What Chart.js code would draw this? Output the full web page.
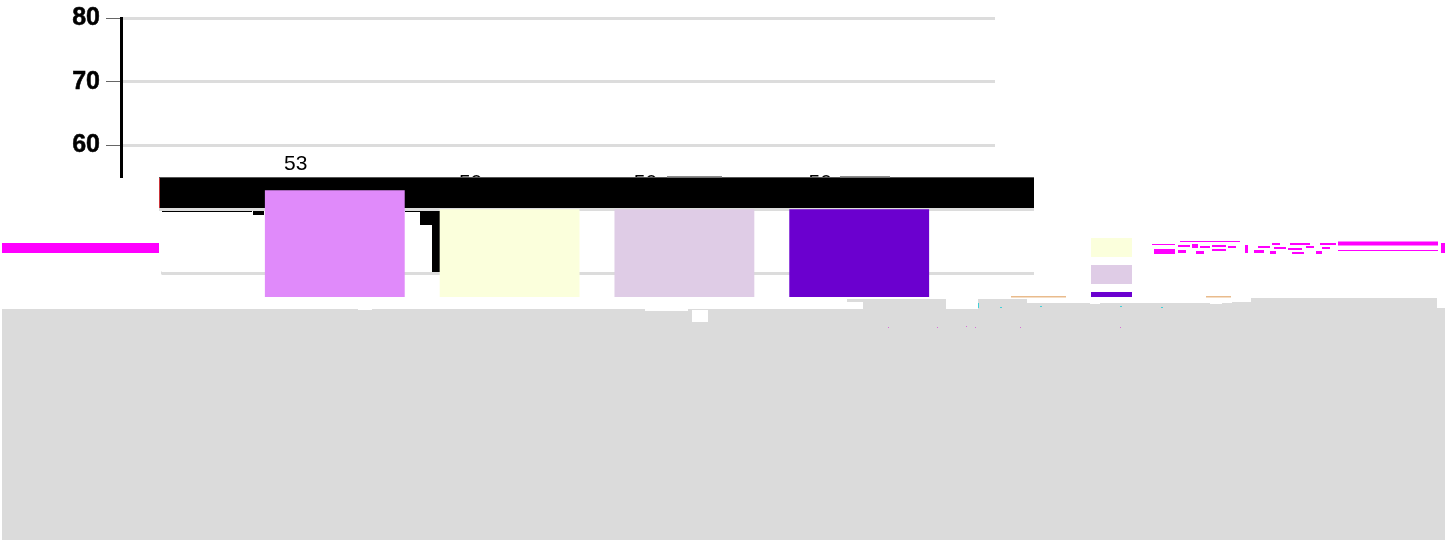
<!DOCTYPE html>
<html>
<head>
<meta charset="utf-8">
<style>html,body{margin:0;padding:0;background:#fff}canvas{display:block}</style>
<script src="https://cdn.jsdelivr.net/npm/chart.js@4"></script>
</head>
<body>
<canvas id="c" width="1445" height="540"></canvas>
<script>
// Chart data (series names and the category label are illegible in the reference)
const categories = [''];
const seriesNames = ['', '', '', ''];
const seriesValues = [53, 50, 50, 50];
const seriesColors = ['#e08afa', '#fbffdc', '#dfcce6', '#6b00cf'];
const axisMin = 0, axisMax = 80, axisStep = 10;

// The reference image is damaged: everything below y=178 is displaced 39px to the right
// and overpainted. The damage is not data, so it is painted as an overlay.
const SLICE_Y = 178, SLICE_DX = 39;
const GRAY = '#dbdbdb', MAG = '#ff00ff', PEACH = '#e9bb8c';
const blackUnderBars = [[159,178,875,30],[162,211,90,1],[253,211,11,4],[405,211,15,1],[420,211,20,14],[432,225,8,47]];
const grayBlocks = [[2,309,1443,231],[847,299,99,3],[863,302,83,7],[978,299,49,10],[1027,303,205,6],[1232,302,19,7],[1251,298,186,11],[1437,308,8,1]];
const whiteHoles = [[692,310,16,12],[645,309,43,2],[358,309,14,1]];
const magenta = [[2,243,157,10],[1338,241.5,100,4],[1338,250,100,1],[1441,243,4,10],[1152,244,23,1],[1154,249,21,5],
  [1180,241,60,1],[1178,245,12,2],[1178,250,8,3],[1192,244,6,4],[1200,246,10,2],[1196,251,8,3],[1212,245,14,2],[1212,249,14,2],
  [1228,246,8,2],[1245,245,3,8],[1258,246,12,2],[1254,250,10,3],[1272,243,8,2],[1274,247,12,2],[1270,251,6,3],[1290,243,20,2],
  [1288,248,14,2],[1306,246,8,2],[1292,252,12,2],[1316,251,6,3],[1320,243,16,2],[1322,247,8,2]];
const peachLines = [[1011,296,55,1.5],[1206,296,25,1.5]];
const grayLines = [[667,176,55,1.5],[840,176,50,1.5]];
const cyan = [[978,303,1,5],[1000,307,2,1],[1040,306,2,1],[1120,306,2,1],[1161,307,2,1]];
const specks = [[888,327],[937,327],[966,326],[975,327],[1020,327],[1120,327]];
const noise = [[1040,300,12,2],[1060,302,8,1],[1075,300,6,2],[1090,303,10,1],[1118,301,14,2],[1140,302,8,1],[1152,300,18,2],
  [1176,302,12,1],[1192,301,10,2],[1210,303,12,1]];

function rects(ctx, list, color, dx = 0) {
  ctx.fillStyle = color;
  list.forEach(r => ctx.fillRect(r[0] + dx, r[1], r[2], r[3]));
}

const damage = {
  id: 'damage',
  beforeDraw(chart) {
    const ctx = chart.ctx;
    ctx.save();
    ctx.fillStyle = '#fff';
    ctx.fillRect(0, 0, chart.width, chart.height);
    ctx.restore();
  },
  beforeDatasetsDraw(chart) {
    const ctx = chart.ctx;
    ctx.save();
    // painted before the bars and before the shift, so the bars stay on top
    rects(ctx, blackUnderBars, '#000', -SLICE_DX);
    ctx.restore();
  },
  afterDatasetsDraw(chart) {
    const ctx = chart.ctx;
    ctx.save();
    ctx.fillStyle = '#000';
    ctx.font = '21px "Liberation Sans"';
    ctx.textAlign = 'center';
    ctx.textBaseline = 'middle';
    chart.data.datasets.forEach((ds, i) => {
      const bar = chart.getDatasetMeta(i).data[0];
      ctx.fillText(String(ds.data[0]), bar.x, bar.y - 26);
    });
    ctx.restore();
  },
  afterDraw(chart) {
    const ctx = chart.ctx, W = chart.width, H = chart.height;
    ctx.save();
    // displace the lower slice of the finished chart
    ctx.drawImage(chart.canvas, 0, SLICE_Y, W, H - SLICE_Y, SLICE_DX, SLICE_Y, W, H - SLICE_Y);
    ctx.fillStyle = '#fff';
    ctx.fillRect(0, SLICE_Y, 159, H - SLICE_Y);
    ctx.fillRect(159, 211, 3, 86);
    ctx.fillStyle = '#dcdcdc';
    ctx.fillRect(159, 208, 3, 3);
    ctx.fillRect(161, 271.5, 1, 3);
    ctx.fillStyle = '#c8353a';
    ctx.fillRect(159, SLICE_Y, 1, 30);
    ctx.fillStyle = '#555';
    ctx.fillRect(159, 177, 875, 1);
    // legend swatches
    chart.data.datasets.slice(1).forEach((ds, i) => {
      ctx.fillStyle = ds.backgroundColor;
      ctx.fillRect(1091, 238 + i * 27, 41, 19);
    });
    rects(ctx, magenta, MAG);
    rects(ctx, grayLines, '#8a8a8a');
    // everything from the bar feet down is overpainted
    ctx.fillStyle = '#fff';
    ctx.fillRect(0, 297, W, H - 297);
    rects(ctx, grayBlocks, GRAY);
    rects(ctx, whiteHoles, '#fff');
    rects(ctx, noise, '#fff');
    rects(ctx, peachLines, PEACH);
    rects(ctx, cyan, '#3fd0d8');
    ctx.fillStyle = '#d66fd6';
    specks.forEach(p => ctx.fillRect(p[0], p[1], 1, 1));
    ctx.restore();
  }
};

new Chart(document.getElementById('c'), {
  type: 'bar',
  data: {
    labels: categories,
    datasets: seriesValues.map((v, i) => ({
      label: seriesNames[i],
      data: [v],
      backgroundColor: seriesColors[i],
      borderWidth: 0,
      barPercentage: 0.8,
      categoryPercentage: 0.8
    }))
  },
  options: {
    responsive: false,
    devicePixelRatio: 1,
    animation: false,
    layout: { padding: { top: 18, right: 450, bottom: 12, left: 0 } },
    plugins: { legend: { display: false }, tooltip: { enabled: false }, title: { display: false } },
    scales: {
      x: { display: false },
      y: {
        min: axisMin,
        max: axisMax,
        afterFit(scale) { scale.width = 121; scale.paddingTop = 0; scale.paddingBottom = 0; },
        ticks: {
          stepSize: axisStep,
          padding: 6,
          color: '#000',
          textStrokeColor: '#000',
          textStrokeWidth: 0.5,
          font: { family: '"Liberation Sans"', size: 25, weight: 'bold' }
        },
        grid: { color: '#dcdcdc', lineWidth: 3, tickColor: '#666', tickWidth: 1, tickLength: 15 },
        border: { color: '#000', width: 3 }
      }
    }
  },
  plugins: [damage]
});
</script>
</body>
</html>
